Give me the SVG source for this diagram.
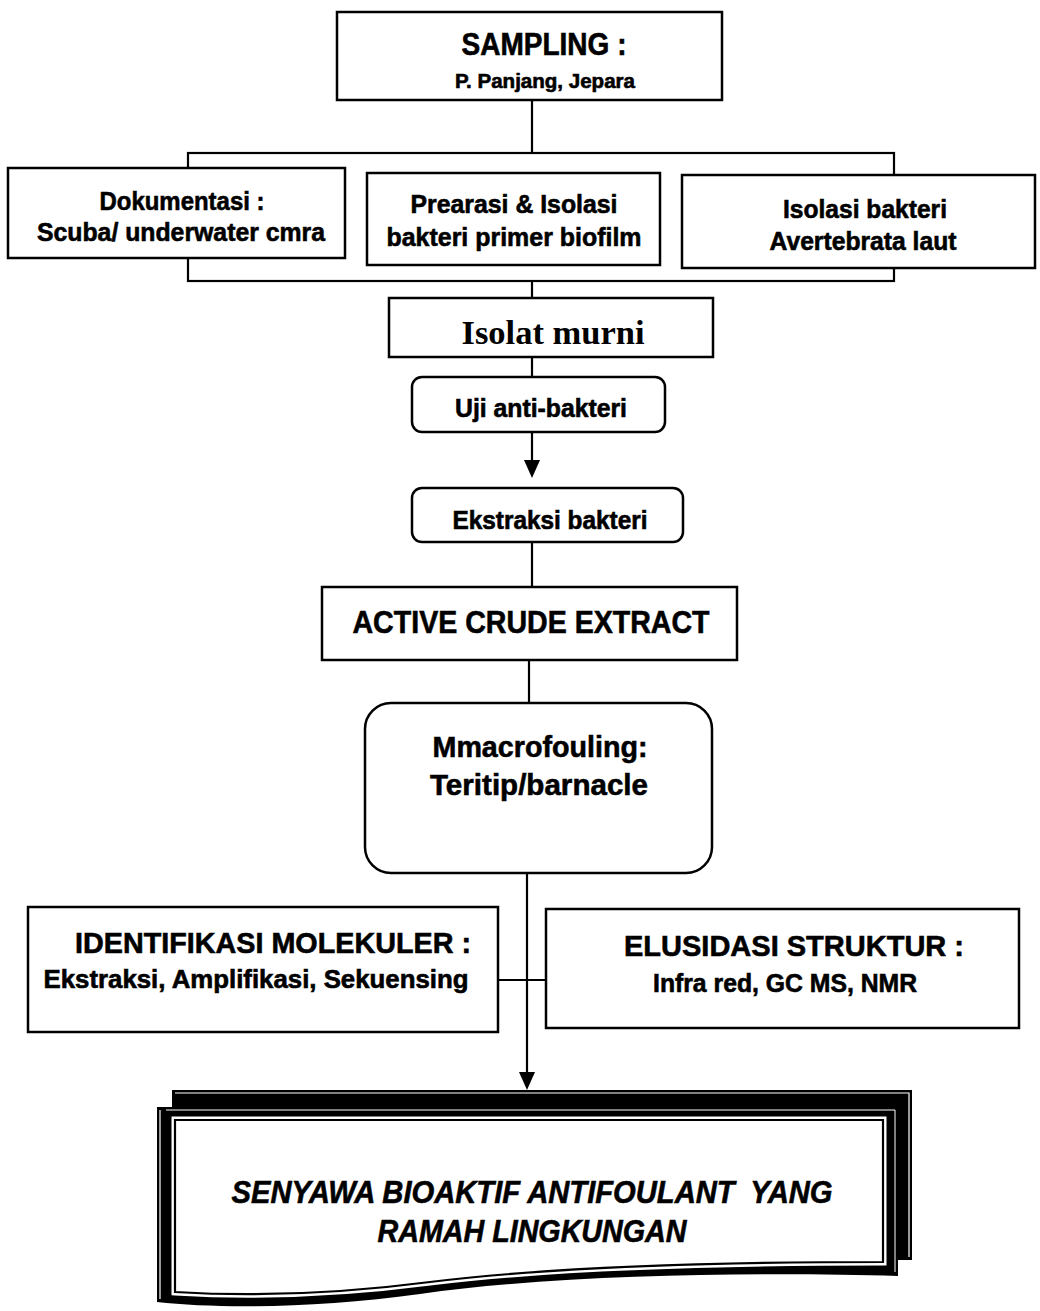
<svg xmlns="http://www.w3.org/2000/svg" width="1040" height="1311" viewBox="0 0 1040 1311">
<defs>
<style>
.box{fill:#fff;stroke:#000;stroke-width:2.5}
.ln{fill:none;stroke:#000;stroke-width:2.2}
.t{font-family:"Liberation Sans",Arial,sans-serif;font-weight:bold;fill:#000;stroke:#000;stroke-width:0.6;text-anchor:middle}
.s{font-family:"Liberation Serif","Times New Roman",serif;font-weight:bold;fill:#000;text-anchor:middle}
.i{font-family:"Liberation Sans",Arial,sans-serif;font-weight:bold;font-style:italic;fill:#000;stroke:#000;stroke-width:0.6;text-anchor:middle;white-space:pre}
</style>
</defs>
<rect width="1040" height="1311" fill="#fff"/>

<g id="connectors">
<line class="ln" x1="532" y1="100" x2="532" y2="153"/>
<rect class="ln" x="188" y="153" width="706" height="128"/>
<line class="ln" x1="532" y1="281" x2="532" y2="298"/>
<line class="ln" x1="532" y1="357" x2="532" y2="377"/>
<path class="ln" d="M532,432 V460"/>
<path d="M524,460 L540,460 L532,478 Z" fill="#000"/>
<line class="ln" x1="532" y1="542" x2="532" y2="587"/>
<line class="ln" x1="529" y1="660" x2="529" y2="703"/>
<path class="ln" d="M527,873 V1072"/>
<path d="M519,1072 L535,1072 L527,1090 Z" fill="#000"/>
<line class="ln" x1="498" y1="980" x2="546" y2="980"/>
</g>

<g id="sampling">
<rect class="box" x="337" y="12" width="385" height="88"/>
<text class="t" x="544" y="55" font-size="31" textLength="165" lengthAdjust="spacingAndGlyphs">SAMPLING :</text>
<text class="t" x="545" y="88" font-size="20" textLength="180" lengthAdjust="spacingAndGlyphs">P. Panjang, Jepara</text>
</g>

<g id="dokumentasi">
<rect class="box" x="8" y="168" width="337" height="90"/>
<text class="t" x="182" y="210" font-size="26" textLength="165" lengthAdjust="spacingAndGlyphs">Dokumentasi :</text>
<text class="t" x="181" y="241" font-size="26" textLength="288" lengthAdjust="spacingAndGlyphs">Scuba/ underwater cmra</text>
</g>

<g id="prearasi">
<rect class="box" x="367" y="173" width="293" height="92"/>
<text class="t" x="514" y="213" font-size="26" textLength="207" lengthAdjust="spacingAndGlyphs">Prearasi &amp; Isolasi</text>
<text class="t" x="514" y="246" font-size="26" textLength="255" lengthAdjust="spacingAndGlyphs">bakteri primer biofilm</text>
</g>

<g id="isolasi-avertebrata">
<rect class="box" x="682" y="175" width="353" height="93"/>
<text class="t" x="865" y="218" font-size="26" textLength="164" lengthAdjust="spacingAndGlyphs">Isolasi bakteri</text>
<text class="t" x="863" y="250" font-size="26" textLength="187" lengthAdjust="spacingAndGlyphs">Avertebrata laut</text>
</g>

<g id="isolat-murni">
<rect class="box" x="389" y="298" width="324" height="59"/>
<text class="s" x="553" y="344" font-size="33" textLength="183" lengthAdjust="spacingAndGlyphs">Isolat murni</text>
</g>

<g id="uji">
<rect class="box" x="412" y="377" width="253" height="55" rx="10"/>
<text class="t" x="541" y="417" font-size="25" textLength="172" lengthAdjust="spacingAndGlyphs">Uji anti-bakteri</text>
</g>

<g id="ekstraksi">
<rect class="box" x="412" y="488" width="271" height="54" rx="10"/>
<text class="t" x="550" y="529" font-size="25" textLength="195" lengthAdjust="spacingAndGlyphs">Ekstraksi bakteri</text>
</g>

<g id="active">
<rect class="box" x="322" y="587" width="415" height="73"/>
<text class="t" x="531" y="633" font-size="32" textLength="357" lengthAdjust="spacingAndGlyphs">ACTIVE CRUDE EXTRACT</text>
</g>

<g id="macrofouling">
<rect class="box" x="365" y="703" width="347" height="170" rx="26"/>
<text class="t" x="540" y="757" font-size="30" textLength="215" lengthAdjust="spacingAndGlyphs">Mmacrofouling:</text>
<text class="t" x="539" y="795" font-size="30" textLength="218" lengthAdjust="spacingAndGlyphs">Teritip/barnacle</text>
</g>

<g id="identifikasi">
<rect class="box" x="28" y="907" width="470" height="125"/>
<text class="t" x="273" y="953" font-size="30" textLength="396" lengthAdjust="spacingAndGlyphs">IDENTIFIKASI MOLEKULER :</text>
<text class="t" x="256" y="988" font-size="25" textLength="425" lengthAdjust="spacingAndGlyphs">Ekstraksi, Amplifikasi, Sekuensing</text>
</g>

<g id="elusidasi">
<rect class="box" x="546" y="909" width="473" height="119"/>
<text class="t" x="794" y="956" font-size="30" textLength="340" lengthAdjust="spacingAndGlyphs">ELUSIDASI STRUKTUR :</text>
<text class="t" x="785" y="992" font-size="25" textLength="264" lengthAdjust="spacingAndGlyphs">Infra red, GC MS, NMR</text>
</g>

<g id="senyawa">
<path d="M172,1090 H912 V1260 H898 V1276 C760,1272 560,1274 420,1294 C320,1308 220,1309 157,1302 V1107 H172 Z" fill="#000"/>
<path d="M175,1093 H909 V1257" fill="none" stroke="#fff" stroke-width="1.2"/>
<path d="M160,1110 V1299" fill="none" stroke="#fff" stroke-width="1.2"/>
<path d="M166,1110 H895 V1272" fill="none" stroke="#fff" stroke-width="1"/>
<path d="M175,1120 H883 V1262 C740,1262 560,1266 430,1282 C330,1295 240,1296 175,1292 Z" fill="none" stroke="#fff" stroke-width="7"/>
<path d="M175,1120 H883 V1262 C740,1262 560,1266 430,1282 C330,1295 240,1296 175,1292 Z" fill="#fff" stroke="#000" stroke-width="2.2"/>
<text class="i" x="532" y="1203" font-size="32" textLength="601" lengthAdjust="spacingAndGlyphs">SENYAWA BIOAKTIF ANTIFOULANT  YANG</text>
<text class="i" x="532" y="1242" font-size="32" textLength="309" lengthAdjust="spacingAndGlyphs">RAMAH LINGKUNGAN</text>
</g>
</svg>
